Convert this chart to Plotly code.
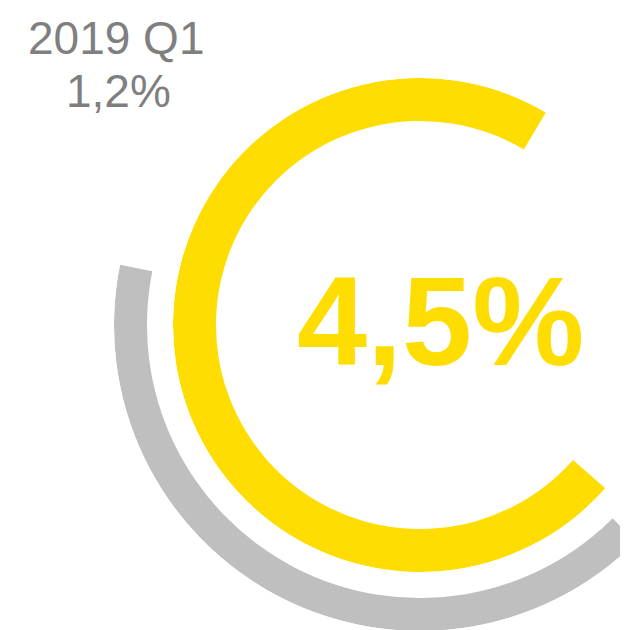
import math
import plotly.graph_objects as go

# ---- data ----
period = "2019 Q1"
ring_names = ["2019 Q1", "current"]
ring_labels = ["1,2%", "4,5%"]
ring_share = [0.411, 0.72]          # part of the full circle each arc covers

# ---- layout / style ----
W, H = 628, 630
OFF = 8                              # page margin around the figure
CX, CY = 420 - OFF, 325 - OFF        # ring centre in figure pixels
ROT = -41.4                          # where the arcs start (deg, ccw from east)
ring_inner = [273, 204]
ring_outer = [306, 247]
ring_start = [2, 0]                  # degrees clockwise from the start line
ring_sector = [[166, 314.9], [57, 321]]
ring_colors = ["#BFBFBF", "#FFDD00"]


def sector_bbox(s0, s1):
    # same box plotly uses to fit a polar sector (always holds the centre)
    angs = [s0, s1] + [a for a in range(0, 720, 90) if s0 <= a <= s1]
    xs = [math.cos(math.radians(a)) for a in angs] + [0]
    ys = [math.sin(math.radians(a)) for a in angs] + [0]
    return min(xs), max(xs), min(ys), max(ys)


fig = go.Figure()
layout_polars = {}
for i, (name, share, inner, outer, start, sector, color) in enumerate(
    zip(ring_names, ring_share, ring_inner, ring_outer, ring_start,
        ring_sector, ring_colors)
):
    key = "polar" if i == 0 else f"polar{i + 1}"
    span = share * 360
    fig.add_trace(
        go.Barpolar(
            name=name,
            r=[outer - inner],
            base=[inner],
            theta=[start + span / 2],
            width=[span],
            marker=dict(color=color, line=dict(width=0)),
            hoverinfo="skip",
            showlegend=False,
            subplot=key,
        )
    )
    x0, x1, y0, y1 = sector_bbox(*sector)
    left, right = CX + x0 * outer, CX + x1 * outer
    top, bottom = CY - y1 * outer, CY - y0 * outer
    layout_polars[key] = dict(
        domain=dict(
            x=[max(left / W, 0), min(right / W, 1)],
            y=[max((H - bottom) / H, 0), min((H - top) / H, 1)],
        ),
        sector=sector,
        bgcolor="rgba(0,0,0,0)",
        radialaxis=dict(range=[0, outer], visible=False, showgrid=False),
        angularaxis=dict(
            visible=False, showgrid=False, direction="clockwise", rotation=ROT
        ),
    )

fig.update_layout(
    width=W,
    height=H,
    autosize=False,
    margin=dict(l=0, r=0, t=0, b=0),
    paper_bgcolor="white",
    plot_bgcolor="white",
    **layout_polars,
)

gray_font = dict(family="Liberation Sans, Arial", size=46, color="#7F7F7F")
fig.add_annotation(
    text=period, xref="paper", yref="paper",
    x=(116 - OFF) / W, y=1 - (37.5 - OFF) / H,
    xanchor="center", yanchor="middle", showarrow=False, font=gray_font,
)
fig.add_annotation(
    text=ring_labels[0], xref="paper", yref="paper",
    x=(118 - OFF) / W, y=1 - (91 - OFF) / H,
    xanchor="center", yanchor="middle", showarrow=False, font=gray_font,
)
fig.add_annotation(
    text="<b>" + ring_labels[1] + "</b>", xref="paper", yref="paper",
    x=(440 - OFF) / W, y=1 - (321 - OFF) / H,
    xanchor="center", yanchor="middle", showarrow=False,
    font=dict(family="Liberation Sans, Arial", size=126, color="#FFDD00"),
)

fig.write_html("out.html")
